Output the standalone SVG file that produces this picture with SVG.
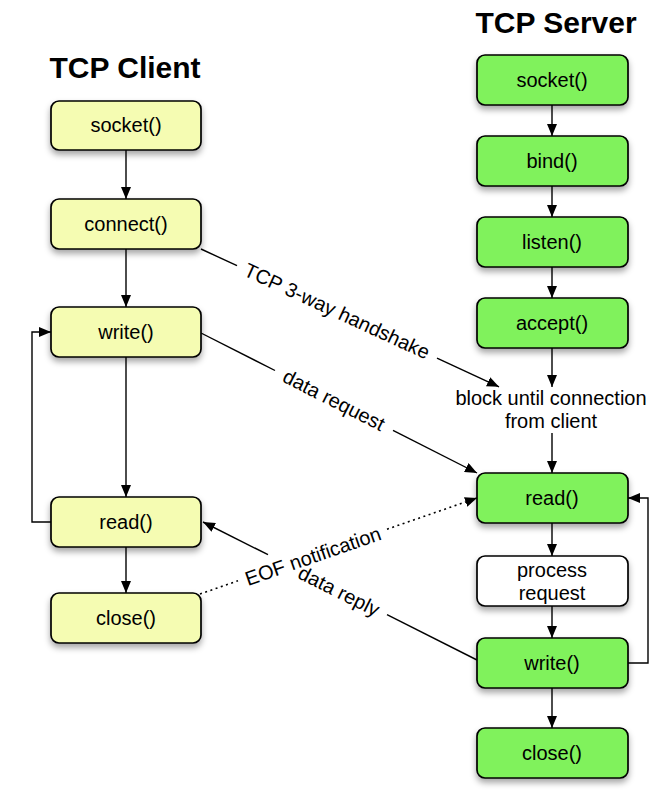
<svg xmlns="http://www.w3.org/2000/svg" width="665" height="792" viewBox="0 0 665 792">
<defs>
<filter id="sh" x="-20%" y="-30%" width="140%" height="170%">
<feDropShadow dx="0" dy="4" stdDeviation="3" flood-color="#000" flood-opacity="0.35"/>
</filter>
<marker id="ah" viewBox="0 0 12 10" refX="12" refY="5" markerWidth="12" markerHeight="10" markerUnits="userSpaceOnUse" orient="auto">
<path d="M0,0 L12,5 L0,10 z" fill="#000"/>
</marker>
</defs>
<style>
.cl{fill:#f5fcb2;stroke:#000;stroke-width:1.7}
.sv{fill:#80f25c;stroke:#000;stroke-width:1.7}
.wh{fill:#fff;stroke:#000;stroke-width:1.7}
.t{font-family:"Liberation Sans",Arial,sans-serif;font-size:20px;fill:#000;text-anchor:middle}
.h{font-family:"Liberation Sans",Arial,sans-serif;font-size:30px;font-weight:bold;fill:#000;text-anchor:middle}
.e{fill:none;stroke:#000;stroke-width:1.4}
.d{fill:none;stroke:#000;stroke-width:1.6;stroke-dasharray:2 3.5}
</style>
<rect width="665" height="792" fill="#fff"/>
<text class="h" x="125" y="78">TCP Client</text>
<text class="h" x="556" y="33">TCP Server</text>

<g id="connectors">
<line class="e" x1="126" y1="150" x2="126" y2="199" marker-end="url(#ah)"/>
<line class="e" x1="126" y1="249" x2="126" y2="307" marker-end="url(#ah)"/>
<line class="e" x1="126" y1="357" x2="126" y2="497" marker-end="url(#ah)"/>
<line class="e" x1="126" y1="547" x2="126" y2="593" marker-end="url(#ah)"/>
<polyline class="e" points="51,522 32,522 32,332 51,332" marker-end="url(#ah)"/>
<line class="e" x1="552" y1="105" x2="552" y2="136" marker-end="url(#ah)"/>
<line class="e" x1="552" y1="186" x2="552" y2="217" marker-end="url(#ah)"/>
<line class="e" x1="552" y1="267" x2="552" y2="298" marker-end="url(#ah)"/>
<line class="e" x1="552" y1="348" x2="552" y2="387" marker-end="url(#ah)"/>
<line class="e" x1="552" y1="433" x2="552" y2="473" marker-end="url(#ah)"/>
<line class="e" x1="552" y1="523" x2="552" y2="556" marker-end="url(#ah)"/>
<line class="e" x1="552" y1="606" x2="552" y2="638" marker-end="url(#ah)"/>
<line class="e" x1="552" y1="688" x2="552" y2="728" marker-end="url(#ah)"/>
<polyline class="e" points="628,663 648,663 648,498 628,498" marker-end="url(#ah)"/>
<!-- TCP 3-way handshake -->
<line class="e" x1="201" y1="249" x2="237" y2="265.7"/>
<line class="e" x1="437" y1="358.2" x2="499" y2="386.8" marker-end="url(#ah)"/>
<text class="t" transform="translate(337,311) rotate(24.8)" x="0" y="7">TCP 3-way handshake</text>
<!-- data request -->
<line class="e" x1="201" y1="333" x2="275" y2="370.5"/>
<line class="e" x1="393" y1="430.4" x2="477" y2="473" marker-end="url(#ah)"/>
<text class="t" transform="translate(334,400) rotate(26.9)" x="0" y="7">data request</text>
<!-- data reply -->
<line class="e" x1="477" y1="660" x2="387" y2="614.7"/>
<line class="e" x1="268" y1="554.7" x2="203" y2="522" marker-end="url(#ah)"/>
<text class="t" transform="translate(339,591) rotate(26.7)" x="0" y="7">data reply</text>
<!-- EOF notification -->
<line class="d" x1="200" y1="594" x2="238" y2="580.8"/>
<line class="d" x1="387" y1="529.2" x2="477" y2="498" marker-end="url(#ah)"/>
<text class="t" transform="translate(313,556) rotate(-19.1)" x="0" y="7">EOF notification</text>
</g>

<g id="c_socket"><rect class="cl" x="51" y="101" width="150" height="49" rx="8" filter="url(#sh)"/><text class="t" x="126" y="132">socket()</text></g>
<g id="c_connect"><rect class="cl" x="51" y="199" width="150" height="50" rx="8" filter="url(#sh)"/><text class="t" x="126" y="231">connect()</text></g>
<g id="c_write"><rect class="cl" x="51" y="307" width="150" height="50" rx="8" filter="url(#sh)"/><text class="t" x="126" y="339">write()</text></g>
<g id="c_read"><rect class="cl" x="51" y="497" width="150" height="50" rx="8" filter="url(#sh)"/><text class="t" x="126" y="529">read()</text></g>
<g id="c_close"><rect class="cl" x="51" y="593" width="150" height="50" rx="8" filter="url(#sh)"/><text class="t" x="126" y="625">close()</text></g>

<g id="s_socket"><rect class="sv" x="477" y="55" width="151" height="50" rx="8" filter="url(#sh)"/><text class="t" x="552" y="87">socket()</text></g>
<g id="s_bind"><rect class="sv" x="477" y="136" width="151" height="50" rx="8" filter="url(#sh)"/><text class="t" x="552" y="168">bind()</text></g>
<g id="s_listen"><rect class="sv" x="477" y="217" width="151" height="50" rx="8" filter="url(#sh)"/><text class="t" x="552" y="249">listen()</text></g>
<g id="s_accept"><rect class="sv" x="477" y="298" width="151" height="50" rx="8" filter="url(#sh)"/><text class="t" x="552" y="330">accept()</text></g>
<g id="s_block"><text class="t" x="551" y="405">block until connection</text><text class="t" x="551" y="428">from client</text></g>
<g id="s_read"><rect class="sv" x="477" y="473" width="151" height="50" rx="8" filter="url(#sh)"/><text class="t" x="552" y="505">read()</text></g>
<g id="s_process"><rect class="wh" x="477" y="556" width="151" height="50" rx="8" filter="url(#sh)"/><text class="t" x="552" y="577">process</text><text class="t" x="552" y="600">request</text></g>
<g id="s_write"><rect class="sv" x="477" y="638" width="151" height="50" rx="8" filter="url(#sh)"/><text class="t" x="552" y="670">write()</text></g>
<g id="s_close"><rect class="sv" x="477" y="728" width="151" height="50" rx="8" filter="url(#sh)"/><text class="t" x="552" y="760">close()</text></g>
</svg>
